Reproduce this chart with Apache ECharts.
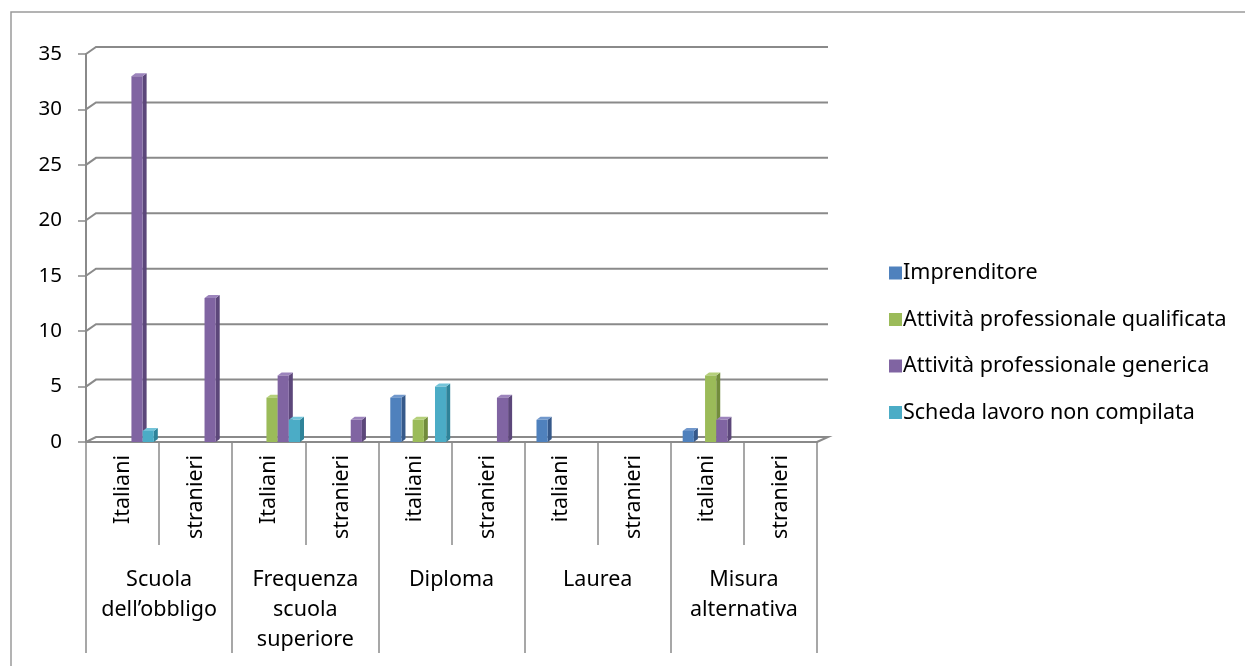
<!DOCTYPE html>
<html><head><meta charset="utf-8">
<script src="https://cdn.jsdelivr.net/npm/echarts@6/dist/echarts.min.js"></script>
<style>html,body{margin:0;padding:0;background:#fff}#c{width:1245px;height:666px}</style>
</head><body><div id="c"></div>
<script>
// ---- data ----
const subCategories = ['Italiani','stranieri','Italiani','stranieri','italiani','stranieri','italiani','stranieri','italiani','stranieri'];
const groups = ['Scuola\ndell\u2019obbligo','Frequenza\nscuola\nsuperiore','Diploma','Laurea','Misura\nalternativa'];
const seriesNames = ['Imprenditore','Attività professionale qualificata','Attività professionale generica','Scheda lavoro non compilata'];
const imprenditore       = [0, 0, 0, 0, 4, 0, 2, 0, 1, 0];
const qualificata        = [0, 0, 4, 0, 2, 0, 0, 0, 6, 0];
const generica           = [33,13, 6, 2, 0, 4, 0, 0, 2, 0];
const schedaNonCompilata = [1, 0, 2, 0, 5, 0, 0, 0, 0, 0];
const yTicks = [0, 5, 10, 15, 20, 25, 30, 35];

// ---- styling ----
const palette = [
  {front:'#4F81BD', side:'#36598A', top:'#7198CC'},
  {front:'#9BBB59', side:'#728C3C', top:'#B5D07A'},
  {front:'#8064A2', side:'#5C477A', top:'#9C84BC'},
  {front:'#4BACC6', side:'#2F8399', top:'#74C4D9'}
];
const clusterPos = [0, 2, 3, 4]; // Excel cluster keeps an empty slot after the first series
const gridColor = '#8a8a8a';
const FONT = 'Noto Sans';
const DX = 10, DY = 7; // back-wall offset

const allValues = [imprenditore, qualificata, generica, schedaNonCompilata];

function barRenderer(k) {
  return function (params, api) {
    const cat = api.value(0), val = api.value(1);
    if (!val) return null;
    const base = api.coord([cat, 0]);
    const top = api.coord([cat, val]);
    const slot = api.size([1, 0])[0];
    const step = slot * 0.153;
    const w = step;
    const x0 = base[0] - 2.5 * step + clusterPos[k] * step + slot * 0.045;
    const d = 4, e = 3;
    const c = palette[k];
    return {
      type: 'group',
      children: [
        {type: 'polygon', shape: {points: [[x0 + w, top[1]], [x0 + w + d, top[1] - e], [x0 + w + d, base[1] - e], [x0 + w, base[1]]]}, style: {fill: c.side}},
        {type: 'polygon', shape: {points: [[x0, top[1]], [x0 + d, top[1] - e], [x0 + w + d, top[1] - e], [x0 + w, top[1]]]}, style: {fill: c.top}},
        {type: 'rect', shape: {x: x0, y: top[1], width: w, height: base[1] - top[1]}, style: {fill: c.front}}
      ]
    };
  };
}

const series = [];
series.push({
  type: 'custom',
  name: 'grid',
  silent: true,
  z: 1,
  data: yTicks.map(v => [0, v]),
  renderItem: function (params, api) {
    const v = api.value(1);
    const y = api.coord([0, v])[1];
    const cs = params.coordSys;
    const left = cs.x, right = cs.x + cs.width;
    const yb = y - (v === 0 ? 5 : DY);
    const pts = [[left, y], [left + DX, yb], [right + 11, yb]];
    if (v === 0) pts.push([right, y]);
    return {type: 'polyline', shape: {points: pts}, style: {stroke: gridColor, lineWidth: 2, fill: null}};
  }
});
allValues.forEach((arr, k) => {
  series.push({
    type: 'custom',
    name: seriesNames[k],
    z: 3,
    itemStyle: {color: palette[k].front},
    data: arr.map((v, i) => [i, v]),
    encode: {x: 0, y: 1},
    renderItem: barRenderer(k)
  });
});

const chart = echarts.init(document.getElementById('c'), null, {renderer: 'canvas'});
chart.setOption({
  animation: false,
  backgroundColor: '#fff',
  textStyle: {fontFamily: FONT},
  graphic: [{type: 'rect', shape: {x: 11, y: 12, width: 1300, height: 700}, style: {fill: null, stroke: '#9a9a9a', lineWidth: 1.5}, silent: true}],
  grid: {left: 86, right: 428, top: 54, bottom: 224, containLabel: false},
  legend: {
    orient: 'vertical', left: 884, top: 257,
    data: seriesNames,
    icon: 'rect', itemWidth: 13, itemHeight: 13, itemGap: 24.5,
    textStyle: {fontFamily: FONT, fontSize: 21.5, color: '#000', lineHeight: 21, padding: [0, 0, 0, -4]}
  },
  xAxis: [
    {
      type: 'category', data: subCategories, boundaryGap: true, position: 'bottom',
      axisLine: {show: true, lineStyle: {color: gridColor, width: 2}},
      axisTick: {show: true, interval: 0, length: 103, lineStyle: {color: gridColor, width: 1.5}},
      axisLabel: {interval: 0, rotate: 90, margin: 13, fontSize: 21.5, color: '#000', fontFamily: FONT},
      splitLine: {show: false}
    },
    {
      type: 'category', data: groups, boundaryGap: true, position: 'bottom',
      axisLine: {show: false},
      axisTick: {show: true, interval: 0, length: 211, lineStyle: {color: gridColor, width: 1.5}},
      axisLabel: {interval: 0, margin: 123, fontSize: 21.5, lineHeight: 30, color: '#000', fontFamily: FONT, align: 'center'},
      splitLine: {show: false}
    }
  ],
  yAxis: {
    type: 'value', min: 0, max: 35, interval: 5,
    axisLine: {show: true, lineStyle: {color: gridColor, width: 2}},
    axisTick: {show: true, length: 8, lineStyle: {color: gridColor, width: 1.5}},
    axisLabel: {fontSize: 20.5, color: '#000', margin: 24, fontFamily: FONT},
    splitLine: {show: false}
  },
  series: series
});
</script>
</body></html>
